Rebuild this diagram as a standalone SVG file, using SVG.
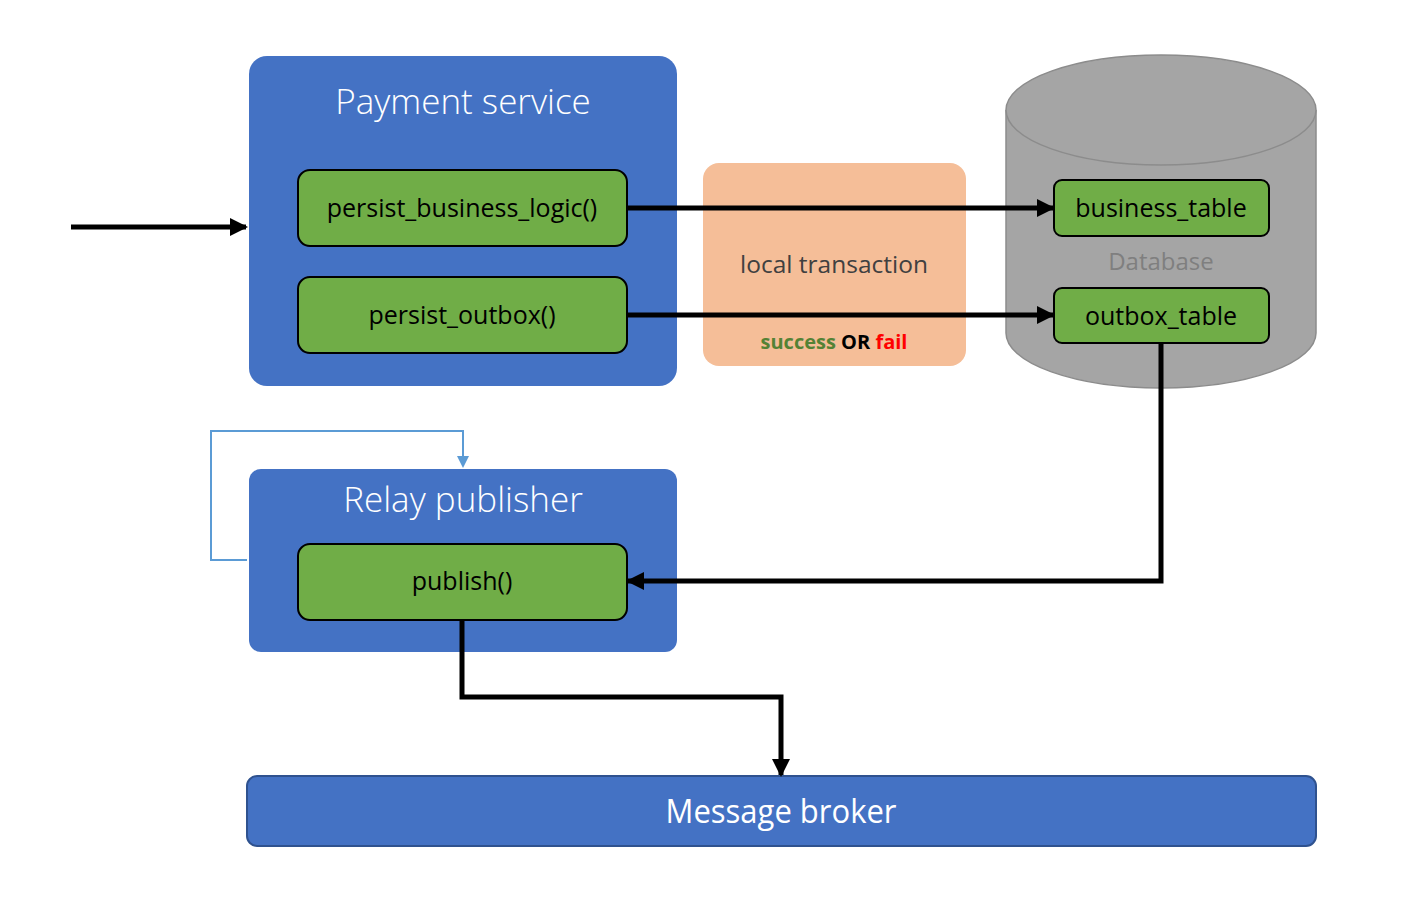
<svg xmlns="http://www.w3.org/2000/svg" width="1413" height="897" viewBox="0 0 1413 897">
  <style>
    .container { fill: #4472C4; }
    .fn { fill: #70AD47; stroke: #000; stroke-width: 2; }
    .title { font-family: "Open Sans", "Liberation Sans", sans-serif; font-weight: 300; font-size: 35px; fill: #fff; text-anchor: middle; }
    .label { font-family: "Open Sans", "Liberation Sans", sans-serif; font-size: 25px; fill: #000; text-anchor: middle; }
    .flow { fill: none; stroke: #000; stroke-width: 5; }
    .loop { fill: none; stroke: #5B9BD5; stroke-width: 2; }
  </style>
  <defs>
    <marker id="head" markerUnits="userSpaceOnUse" markerWidth="18" markerHeight="18" refX="16" refY="9" orient="auto">
      <path d="M0,0 L18,9 L0,18 z" fill="#000"/>
    </marker>
    <marker id="head-blue" markerUnits="userSpaceOnUse" markerWidth="12" markerHeight="12" refX="10" refY="6" orient="auto">
      <path d="M0,0 L12,6 L0,12 z" fill="#5B9BD5"/>
    </marker>
  </defs>

  <rect width="1413" height="897" fill="#fff"/>

  <!-- Payment service container -->
  <g id="payment-service">
    <rect class="container" x="249" y="56" width="428" height="330" rx="18"/>
    <text class="title" x="463" y="114">Payment service</text>
  </g>
  <g id="persist-business-logic">
    <rect class="fn" x="298" y="170" width="329" height="76" rx="12"/>
    <text class="label" x="462" y="217">persist_business_logic()</text>
  </g>
  <g id="persist-outbox">
    <rect class="fn" x="298" y="277" width="329" height="76" rx="12"/>
    <text class="label" x="462" y="324">persist_outbox()</text>
  </g>

  <!-- Local transaction -->
  <g id="local-transaction">
    <rect x="703" y="163" width="263" height="203" rx="16" fill="#F5BE98"/>
    <text x="834" y="273" font-family="'Open Sans', 'Liberation Sans', sans-serif" font-size="24.5" fill="#404040" text-anchor="middle">local transaction</text>
    <text x="834" y="349" font-family="'Open Sans', 'Liberation Sans', sans-serif" font-size="20" font-weight="bold" text-anchor="middle"><tspan fill="#548235">success</tspan> <tspan fill="#000">OR</tspan> <tspan fill="#FF0000">fail</tspan></text>
  </g>

  <!-- Database cylinder -->
  <g id="database">
    <path d="M1006,110 L1006,333 A155,55 0 0 0 1316,333 L1316,110" fill="#A5A5A5" stroke="#8C8C8C" stroke-width="1.5"/>
    <ellipse cx="1161" cy="110" rx="155" ry="55" fill="#A5A5A5" stroke="#8C8C8C" stroke-width="1.5"/>
    <text x="1161" y="270" font-family="'Open Sans', 'Liberation Sans', sans-serif" font-size="24" fill="#7F7F7F" text-anchor="middle">Database</text>
  </g>
  <g id="business-table">
    <rect class="fn" x="1054" y="180" width="215" height="56" rx="8"/>
    <text class="label" x="1161" y="217">business_table</text>
  </g>
  <g id="outbox-table">
    <rect class="fn" x="1054" y="288" width="215" height="55" rx="8"/>
    <text class="label" x="1161" y="325">outbox_table</text>
  </g>

  <!-- Relay publisher container -->
  <g id="relay-publisher">
    <rect class="container" x="249" y="469" width="428" height="183" rx="12"/>
    <text class="title" x="463" y="512">Relay publisher</text>
  </g>
  <g id="publish">
    <rect class="fn" x="298" y="544" width="329" height="76" rx="12"/>
    <text class="label" x="462" y="590">publish()</text>
  </g>

  <!-- Message broker -->
  <g id="message-broker">
    <rect x="247" y="776" width="1069" height="70" rx="10" fill="#4472C4" stroke="#2F528F" stroke-width="2"/>
    <text x="781" y="823" font-family="'Open Sans', 'Liberation Sans', sans-serif" font-size="32" fill="#fff" text-anchor="middle" textLength="231" lengthAdjust="spacingAndGlyphs">Message broker</text>
  </g>

  <!-- Connectors -->
  <g id="connectors">
    <line class="flow" x1="71" y1="227" x2="246" y2="227" marker-end="url(#head)"/>
    <line class="flow" x1="627" y1="208" x2="1053" y2="208" marker-end="url(#head)"/>
    <line class="flow" x1="627" y1="315" x2="1053" y2="315" marker-end="url(#head)"/>
    <polyline class="flow" points="1161,343 1161,581 628,581" marker-end="url(#head)"/>
    <polyline class="flow" points="462,620 462,697 781,697 781,775" marker-end="url(#head)"/>
    <polyline class="loop" points="247,560 211,560 211,431 463,431 463,466" marker-end="url(#head-blue)"/>
  </g>
</svg>
